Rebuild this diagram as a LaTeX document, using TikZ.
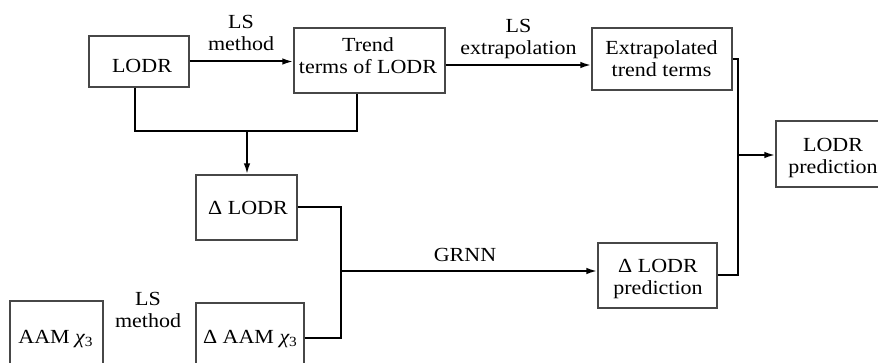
\documentclass[tikz,border=0pt]{standalone}
\usepackage{fontspec}
\setmainfont[FakeStretch=1.1]{Liberation Serif}
\usetikzlibrary{arrows.meta}
\newcommand{\chithree}{{\itshape χ}\raisebox{-3pt}{\fontsize{14}{14}\selectfont 3}}
\begin{document}
\begin{tikzpicture}[x=1pt,y=-1pt,
  box/.style={draw=black!72, line width=1.2pt, inner sep=0pt},
  txt/.style={font=\fontsize{20}{22}\selectfont, align=center, inner sep=0pt},
  conn/.style={line width=2pt, black},
  arr/.style={conn, -{Latex[length=11pt,width=6.5pt]}}]
\useasboundingbox (0,0) rectangle (878,363);
\clip (0,0) rectangle (878,363);

% boxes
\node[box, minimum width=100pt, minimum height=51pt] (lodr)   at (139,61.5) {};
\node[box, minimum width=151pt, minimum height=65pt] (trend)  at (369.5,60.5) {};
\node[box, minimum width=140pt, minimum height=62pt] (extrap) at (662,59) {};
\node[box, minimum width=112pt, minimum height=66pt] (lp)     at (832,154) {};
\node[box, minimum width=101pt, minimum height=65pt] (dl)     at (246.5,207.5) {};
\node[box, minimum width=119pt, minimum height=65pt] (dlp)    at (657.5,275.5) {};
\node[box, minimum width=93pt,  minimum height=70pt] (aam)    at (56.5,336) {};
\node[box, minimum width=108pt, minimum height=70pt] (daam)   at (250,338) {};

% box texts
\node[txt, anchor=base] (lodr-t)   at (142,73) {LODR};
\node[txt]              (trend-t)  at (368,56) {Trend\\terms of LODR};
\node[txt]              (extrap-t) at (661.5,58.5) {Extrapolated\\trend terms};
\node[txt]              (lp-t)     at (833,158) {LODR\\prediction};
\node[txt, anchor=base] (dl-t)     at (248,215) {Δ LODR};
\node[txt]              (dlp-t)    at (658,279.5) {Δ LODR\\prediction};
\node[txt, anchor=base] (aam-t)    at (55.5,343) {AAM \chithree};
\node[txt, anchor=base] (daam-t)   at (250,343) {Δ AAM \chithree};

% connector labels
\node[txt] (ls1)   at (241,33)    {LS\\method};
\node[txt] (lsext) at (518.5,39)  {LS\\extrapolation};
\node[txt, anchor=base] (grnn) at (465,262) {GRNN};
\node[txt] (ls2)   at (148,309.5) {LS\\method};

% junction points
\coordinate (jl) at (247,131);
\coordinate (jm) at (341,271);
\coordinate (jr) at (738,155);

% connectors
\draw[arr] (lodr.east) -- (lodr.east -| trend.west);
\draw[arr] (trend.east |- 0,65) -- (extrap.west |- 0,65);
\draw[conn] (lodr.south -| 135,0) |- (jl) -| (trend.south -| 357,0);
\draw[arr] (jl) -- (jl |- dl.north);
\draw[conn] (dl.east) -| (jm);
\draw[conn] (daam.east) -| (jm);
\draw[arr] (jm) -- (jm -| dlp.west);
\draw[conn] (extrap.east) -| (jr);
\draw[conn] (dlp.east) -| (jr);
\draw[arr] (jr) -- (jr -| lp.west);
\end{tikzpicture}
\end{document}
